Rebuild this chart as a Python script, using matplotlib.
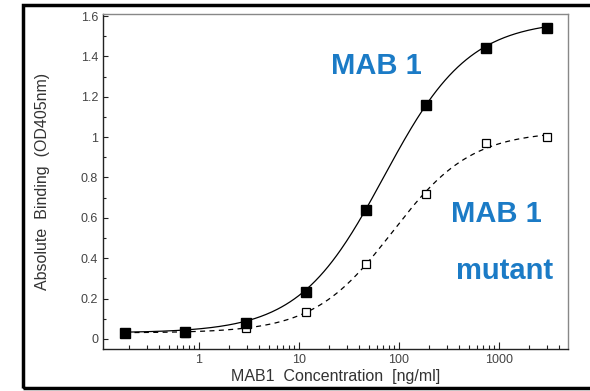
import matplotlib
matplotlib.use("Agg")
import matplotlib.pyplot as plt
from matplotlib.patches import Rectangle
from matplotlib.ticker import MultipleLocator, LogLocator, NullFormatter, FixedLocator, FixedFormatter
import numpy as np

plt.rcParams['font.family'] = ['Liberation Sans', 'DejaVu Sans']

# concentrations [ng/ml], 4-fold dilution series
conc = [0.183, 0.732, 2.93, 11.7, 46.9, 187.5, 750, 3000]
mab1 = [0.03, 0.035, 0.08, 0.23, 0.64, 1.16, 1.44, 1.54]
mutant = [0.03, 0.03, 0.055, 0.135, 0.37, 0.72, 0.97, 1.0]

# 4PL fit parameters: bottom, top, EC50, hill
fit_mab1 = [0.03, 1.58, 71.0, 1.02]
fit_mutant = [0.03, 1.03, 86.0, 1.1]

xticks = [1, 10, 100, 1000]
xticklabels = ['1', '10', '100', '1000']
yticks = [0, 0.2, 0.4, 0.6, 0.8, 1, 1.2, 1.4, 1.6]
yticklabels = ['0', '0.2', '0.4', '0.6', '0.8', '1', '1.2', '1.4', '1.6']


def four_pl(x, p):
    b, t, ec50, h = p
    return b + (t - b) / (1 + (ec50 / x) ** h)


fig = plt.figure(figsize=(5.9, 3.91), dpi=100)
ax = fig.add_axes([0.1746, 0.1074, 0.788, 0.8568])

xs = np.logspace(np.log10(conc[0]), np.log10(conc[-1]), 300)
ax.plot(xs, four_pl(xs, fit_mab1), color='black', lw=0.9)
ax.plot(xs, four_pl(xs, fit_mutant), color='black', lw=0.9, ls=(0, (4, 3.5)))
ax.plot(conc, mutant, ls='none', marker='s', ms=6, mfc='white', mec='black', mew=0.9)
ax.plot(conc, mab1, ls='none', marker='s', ms=6.5, mfc='black', mec='black')

ax.set_xscale('log')
ax.set_xlim(0.11, 4900)
ax.set_ylim(-0.05, 1.61)

ax.xaxis.set_major_locator(FixedLocator(xticks))
ax.xaxis.set_major_formatter(FixedFormatter(xticklabels))
ax.xaxis.set_minor_locator(LogLocator(base=10, subs=np.arange(2, 10)))
ax.xaxis.set_minor_formatter(NullFormatter())
ax.yaxis.set_major_locator(FixedLocator(yticks))
ax.yaxis.set_major_formatter(FixedFormatter(yticklabels))
ax.yaxis.set_minor_locator(MultipleLocator(0.1))

ax.tick_params(which='both', direction='in', colors='#222222', labelcolor='#444444', labelsize=9, width=0.8)
ax.tick_params(axis='y', which='major', length=3.8)
ax.tick_params(axis='y', which='minor', length=2.5)
ax.tick_params(axis='x', which='major', length=5)
ax.tick_params(axis='x', which='minor', length=3)

for s in ['left', 'bottom']:
    ax.spines[s].set_color('#222222')
    ax.spines[s].set_linewidth(1.0)
for s in ['top', 'right']:
    ax.spines[s].set_color('#888888')
    ax.spines[s].set_linewidth(1.0)

ax.set_xlabel('MAB1  Concentration  [ng/ml]', fontsize=11.5, color='#333333', labelpad=2)
ax.set_ylabel('Absolute  Binding  (OD405nm)', fontsize=11.5, color='#333333', labelpad=22)

blue = '#1b7bc6'
ax.text(0.589, 0.844, 'MAB 1', transform=ax.transAxes, color=blue, fontsize=21, fontweight='bold', ha='center', va='center')
ax.text(0.847, 0.404, 'MAB 1', transform=ax.transAxes, color=blue, fontsize=21, fontweight='bold', ha='center', va='center')
ax.text(0.864, 0.232, 'mutant', transform=ax.transAxes, color=blue, fontsize=21, fontweight='bold', ha='center', va='center')

fig.patches.append(Rectangle((23 / 590, 1 - 388 / 391), 1.0, (388 - 5) / 391, transform=fig.transFigure,
                             fill=False, edgecolor='black', lw=2.5))

fig.savefig('out.png', dpi=100)
